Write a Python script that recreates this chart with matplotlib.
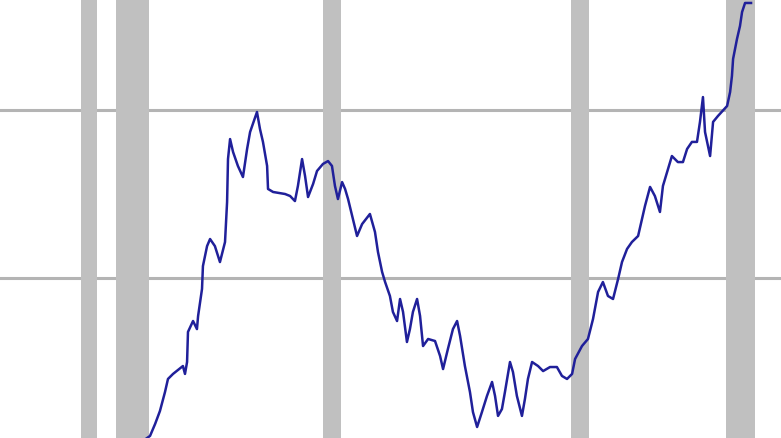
import matplotlib
matplotlib.use("Agg")
import matplotlib.pyplot as plt

# recession periods (decimal years)
recessions = [(1980.0, 1980.67), (1981.5, 1982.93), (1990.5, 1991.28),
              (2001.28, 2002.07), (2008.02, 2009.28)]

# series
years = [1982.67, 1982.98, 1983.20, 1983.41, 1983.63, 1983.76, 1983.98, 1984.41, 1984.50, 1984.59,
         1984.63, 1984.85, 1985.02, 1985.07, 1985.24, 1985.28, 1985.46, 1985.59, 1985.80, 1986.02,
         1986.24, 1986.33, 1986.37, 1986.46, 1986.59, 1986.80, 1987.02, 1987.20, 1987.33, 1987.63,
         1987.76, 1987.89, 1988.07, 1988.11, 1988.33, 1988.85, 1989.07, 1989.28, 1989.41, 1989.59,
         1989.72, 1989.85, 1990.07, 1990.24, 1990.50, 1990.72, 1990.89, 1991.02, 1991.15, 1991.33,
         1991.46, 1991.59, 1991.80, 1991.98, 1992.20, 1992.54, 1992.76, 1992.89, 1993.07, 1993.20,
         1993.41, 1993.54, 1993.72, 1993.85, 1993.98, 1994.15, 1994.28, 1994.41, 1994.59, 1994.72,
         1994.85, 1995.07, 1995.37, 1995.59, 1995.72, 1995.93, 1996.15, 1996.33, 1996.46, 1996.67,
         1996.89, 1997.02, 1997.20, 1997.41, 1997.63, 1997.85, 1997.98, 1998.11, 1998.28, 1998.41,
         1998.63, 1998.76, 1998.93, 1999.15, 1999.28, 1999.41, 1999.59, 1999.85, 2000.07, 2000.37,
         2000.67, 2000.89, 2001.11, 2001.33, 2001.46, 2001.76, 2002.02, 2002.24, 2002.46, 2002.67,
         2002.89, 2003.11, 2003.33, 2003.50, 2003.72, 2003.93, 2004.20, 2004.37, 2004.50, 2004.72,
         2004.93, 2005.15, 2005.28, 2005.46, 2005.67, 2005.93, 2006.15, 2006.33, 2006.54, 2006.76,
         2006.89, 2007.02, 2007.11, 2007.24, 2007.33, 2007.46, 2007.67, 2008.07, 2008.20, 2008.28,
         2008.33, 2008.50, 2008.63, 2008.72, 2008.85, 2009.11]
values = [0.30, 0.60, 1.31, 2.08, 3.21, 3.99, 4.29, 4.76, 4.29, 5.00,
          6.79, 7.44, 6.96, 7.74, 9.35, 10.71, 11.90, 12.32, 11.90, 10.95,
          12.14, 14.52, 17.08, 18.27, 17.50, 16.67, 16.01, 17.68, 18.69, 19.88,
          18.87, 18.10, 16.67, 15.30, 15.12, 15.00, 14.88, 14.58, 15.48, 17.08,
          16.07, 14.82, 15.60, 16.37, 16.79, 16.96, 16.67, 15.48, 14.70, 15.71,
          15.30, 14.70, 13.51, 12.50, 13.21, 13.81, 12.74, 11.55, 10.36, 9.76,
          8.93, 7.98, 7.44, 8.75, 7.98, 6.19, 6.96, 7.98, 8.75, 7.74,
          5.95, 6.37, 6.25, 5.36, 4.58, 5.77, 6.96, 7.44, 6.55, 4.76,
          3.21, 2.02, 1.13, 2.02, 2.98, 3.81, 2.98, 1.79, 2.20, 3.21,
          5.00, 4.40, 2.98, 1.79, 2.80, 3.99, 5.00, 4.76, 4.46, 4.70,
          4.70, 4.17, 3.99, 4.29, 5.18, 5.95, 6.37, 7.56, 9.17, 9.76,
          8.93, 8.75, 9.94, 10.95, 11.73, 12.14, 12.50, 13.51, 14.29, 15.42,
          14.88, 13.93, 15.48, 16.31, 17.26, 16.90, 16.90, 17.68, 18.10, 18.10,
          19.29, 20.77, 18.69, 17.86, 17.26, 19.29, 19.64, 20.24, 21.07, 22.02,
          23.04, 24.23, 25.00, 25.83, 26.37, 26.37]

grid_levels = [10, 20]

fig = plt.figure(figsize=(7.81, 4.39), dpi=100)
ax = fig.add_axes([0, 0, 1, 1])

for lvl in grid_levels:
    ax.axhline(lvl, color='#b4b4b4', linewidth=2.2, zorder=1)
for start, end in recessions:
    ax.axvspan(start, end, color='#c0c0c0', linewidth=0, zorder=2)

ax.plot(years, values, color='#20209a', linewidth=1.8, zorder=3)

ax.set_xlim(1976.457, 2010.413)
ax.set_ylim(0.476, 26.607)
ax.axis('off')

fig.savefig('out.png', dpi=100, facecolor='white')
